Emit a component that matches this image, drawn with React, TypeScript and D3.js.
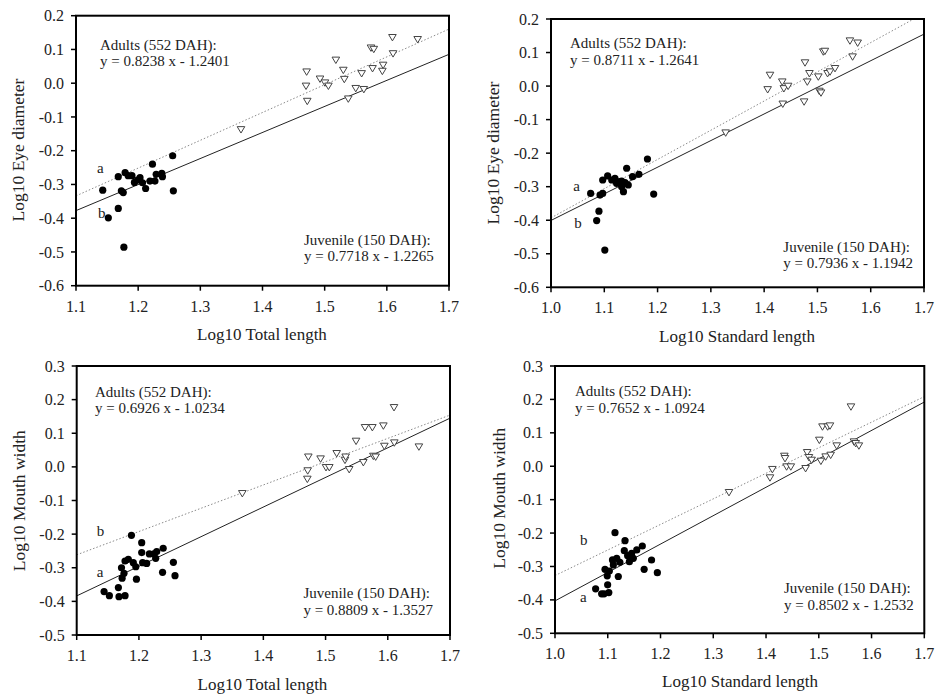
import React from "react";
import * as d3 from "d3";

// ---------- DATA ----------
const xTicksTotal = [1.1, 1.2, 1.3, 1.4, 1.5, 1.6, 1.7];
const xTicksStandard = [1.0, 1.1, 1.2, 1.3, 1.4, 1.5, 1.6, 1.7];
const yTicksEye = [-0.6, -0.5, -0.4, -0.3, -0.2, -0.1, 0.0, 0.1, 0.2];
const yTicksMouth = [-0.5, -0.4, -0.3, -0.2, -0.1, 0.0, 0.1, 0.2, 0.3];

// Eye diameter vs total length
const eyeTotalJuvenile: [number, number][] = [
  [1.143, -0.317], [1.152, -0.399], [1.168, -0.277], [1.173, -0.319], [1.176, -0.324],
  [1.168, -0.371], [1.177, -0.486], [1.179, -0.265], [1.184, -0.274], [1.19, -0.274],
  [1.194, -0.294], [1.203, -0.28], [1.207, -0.295], [1.212, -0.312], [1.219, -0.29],
  [1.223, -0.24], [1.227, -0.29], [1.229, -0.27], [1.238, -0.267], [1.239, -0.277],
  [1.2555, -0.215], [1.2566, -0.319], [1.199, -0.287],
];
const eyeTotalAdult: [number, number][] = [
  [1.3654, -0.137], [1.471, 0.034], [1.47, -0.008], [1.472, -0.053], [1.4925, 0.013],
  [1.5005, 0.0015], [1.506, -0.008], [1.518, 0.069], [1.53, 0.039], [1.5316, 0.012],
  [1.538, -0.046], [1.55, -0.015], [1.5595, 0.029], [1.563, -0.018], [1.5745, 0.105],
  [1.579, 0.101], [1.577, 0.044], [1.5928, 0.036], [1.594, 0.054], [1.609, 0.136],
  [1.61, 0.088], [1.6496, 0.13],
];
const eyeTotalFitAdult = [0.8238, -1.2401];
const eyeTotalFitJuvenile = [0.7718, -1.2265];

// Eye diameter vs standard length
const eyeStdJuvenile: [number, number][] = [
  [1.0744, -0.32], [1.092, -0.325], [1.097, -0.32], [1.09, -0.373], [1.0857, -0.401],
  [1.101, -0.489], [1.097, -0.28], [1.1063, -0.268], [1.114, -0.28], [1.12, -0.275],
  [1.123, -0.29], [1.129, -0.285], [1.1326, -0.3], [1.136, -0.315], [1.139, -0.288],
  [1.142, -0.245], [1.145, -0.295], [1.153, -0.27], [1.165, -0.263], [1.181, -0.2175],
  [1.1927, -0.322], [1.1326, -0.283],
];
const eyeStdAdult: [number, number][] = [
  [1.3278, -0.139], [1.4066, -0.01], [1.411, 0.033], [1.434, 0.013], [1.437, -0.007],
  [1.445, 0.0002], [1.435, -0.053], [1.4767, 0.07], [1.475, -0.0465], [1.481, 0.013],
  [1.485, 0.038], [1.5017, 0.028], [1.5036, -0.0147], [1.5067, -0.0197], [1.511, 0.1026],
  [1.514, 0.1045], [1.519, 0.038], [1.5236, 0.043], [1.533, 0.053], [1.561, 0.1354],
  [1.566, 0.0877], [1.5755, 0.129],
];
const eyeStdFitAdult = [0.8711, -1.2641];
const eyeStdFitJuvenile = [0.7936, -1.1942];

// Mouth width vs total length
const mouthTotalJuvenile: [number, number][] = [
  [1.144, -0.371], [1.1525, -0.383], [1.167, -0.359], [1.168, -0.386], [1.1777, -0.383],
  [1.173, -0.331], [1.172, -0.3], [1.1777, -0.28], [1.183, -0.275], [1.188, -0.2036],
  [1.176, -0.3166], [1.191, -0.285], [1.195, -0.297], [1.196, -0.334], [1.2045, -0.2254],
  [1.2045, -0.255], [1.206, -0.285], [1.2125, -0.287], [1.2168, -0.259], [1.224, -0.259],
  [1.2286, -0.252], [1.227, -0.272], [1.239, -0.242], [1.238, -0.3136], [1.2554, -0.284],
  [1.258, -0.3235],
];
const mouthTotalAdult: [number, number][] = [
  [1.3662, -0.0787], [1.4707, -0.036], [1.4713, -0.011], [1.4723, 0.03], [1.492, 0.0244],
  [1.5007, -0.0014], [1.506, -0.0014], [1.5179, 0.0403], [1.5312, 0.0204], [1.5323, 0.03],
  [1.538, -0.0073], [1.549, 0.077], [1.5607, 0.0135], [1.5634, 0.1176], [1.5752, 0.1176],
  [1.5768, 0.0323], [1.5805, 0.03], [1.5929, 0.1225], [1.5945, 0.062], [1.61, 0.177],
  [1.6105, 0.072], [1.65, 0.06],
];
const mouthTotalFitAdult = [0.6926, -1.0234];
const mouthTotalFitJuvenile = [0.8809, -1.3527];

// Mouth width vs standard length
const mouthStdJuvenile: [number, number][] = [
  [1.077, -0.367], [1.0884, -0.382], [1.093, -0.382], [1.102, -0.378], [1.0998, -0.355],
  [1.099, -0.328], [1.0948, -0.3085], [1.103, -0.3135], [1.12, -0.33], [1.1137, -0.1988],
  [1.109, -0.2805], [1.117, -0.2756], [1.123, -0.2875], [1.1106, -0.2955], [1.1327, -0.2227],
  [1.1314, -0.2526], [1.1377, -0.2676], [1.141, -0.2855], [1.1453, -0.2606], [1.155, -0.2506],
  [1.1655, -0.2387], [1.169, -0.3085], [1.183, -0.2806], [1.194, -0.3185], [1.1485, -0.2756],
];
const mouthStdAdult: [number, number][] = [
  [1.3298, -0.078], [1.4075, -0.034], [1.412, -0.009], [1.4347, 0.0307], [1.436, 0.0237],
  [1.439, -0.0012], [1.447, -0.0012], [1.475, -0.0062], [1.478, 0.0416], [1.4814, 0.0267],
  [1.4864, 0.0187], [1.501, 0.0786], [1.504, 0.0157], [1.507, 0.1185], [1.513, 0.0287],
  [1.5168, 0.1185], [1.5212, 0.1214], [1.5225, 0.0337], [1.534, 0.0616], [1.561, 0.1783],
  [1.5667, 0.0736], [1.57, 0.0686], [1.576, 0.0616],
];
const mouthStdFitAdult = [0.7652, -1.0924];
const mouthStdFitJuvenile = [0.8502, -1.2532];

// ---------- RENDER ----------
const FONT = "'Liberation Serif', 'Times New Roman', serif";
const fmt = (v: number) => v.toFixed(1);
const fitLabel = (f: number[]) =>
  `y = ${f[0].toFixed(4)} x - ${Math.abs(f[1]).toFixed(4)}`;

type PanelProps = {
  id: string;
  left: number; top: number; width: number; height: number;
  xTicks: number[]; yTicks: number[];
  juvenile: [number, number][]; adult: [number, number][];
  fitAdult: number[]; fitJuvenile: number[];
  xTitle: string; yTitle: string;
  xTitlePos: [number, number]; yTitlePos: [number, number];
  adultPos: [number, number]; juvPos: [number, number];
  aPos: [number, number]; bPos: [number, number];
};

function Panel(p: PanelProps) {
  const x = d3.scaleLinear().domain([p.xTicks[0], p.xTicks[p.xTicks.length - 1]]).range([0, p.width]);
  const y = d3.scaleLinear().domain([p.yTicks[0], p.yTicks[p.yTicks.length - 1]]).range([p.height, 0]);
  const [x0, x1] = x.domain();
  const line = d3.line<number>().x((v) => x(v)).y((v) => y(v));
  const fitPath = (f: number[]) =>
    d3.line<[number, number]>().x((d) => x(d[0])).y((d) => y(d[1]))([
      [x0, f[0] * x0 + f[1]],
      [x1, f[0] * x1 + f[1]],
    ]) || "";
  void line;
  const tri = "M-3.8,-2.8L3.8,-2.8L0,3.6Z";
  return (
    <g>
      <defs>
        <clipPath id={`clip-${p.id}`}>
          <rect x={0} y={0} width={p.width} height={p.height} />
        </clipPath>
      </defs>
      <g transform={`translate(${p.left},${p.top})`}>
        <g clipPath={`url(#clip-${p.id})`}>
          <path d={fitPath(p.fitAdult)} fill="none" stroke="#8a8a8a" strokeWidth={1} strokeDasharray="1.5,2" />
          <path d={fitPath(p.fitJuvenile)} fill="none" stroke="#222" strokeWidth={1} />
        </g>
        {p.adult.map((d, i) => (
          <path key={`a${i}`} d={tri} transform={`translate(${x(d[0])},${y(d[1])})`}
            fill="white" stroke="#444" strokeWidth={1} />
        ))}
        {p.juvenile.map((d, i) => (
          <circle key={`j${i}`} cx={x(d[0])} cy={y(d[1])} r={3.6} fill="#000" />
        ))}
        <rect x={0} y={0} width={p.width} height={p.height} fill="none" stroke="#000" strokeWidth={2} />
        {p.xTicks.map((t) => (
          <g key={`xt${t}`} transform={`translate(${x(t)},${p.height})`}>
            <line y1={0} y2={5} stroke="#000" strokeWidth={1.5} />
            <text y={26} textAnchor="middle" fontFamily={FONT} fontSize={16} fill="#222">{fmt(t)}</text>
          </g>
        ))}
        {p.yTicks.map((t) => (
          <g key={`yt${t}`} transform={`translate(0,${y(t)})`}>
            <line x1={0} x2={-5} stroke="#000" strokeWidth={1.5} />
            <text x={-12} dy="0.35em" textAnchor="end" fontFamily={FONT} fontSize={16} fill="#222">{fmt(t)}</text>
          </g>
        ))}
        <g fontFamily={FONT} fontSize={15} fill="#222">
          <text x={p.adultPos[0]} y={p.adultPos[1]}>Adults (552 DAH):</text>
          <text x={p.adultPos[0]} y={p.adultPos[1] + 16.5}>{fitLabel(p.fitAdult)}</text>
          <text x={p.juvPos[0]} y={p.juvPos[1]}>Juvenile (150 DAH):</text>
          <text x={p.juvPos[0]} y={p.juvPos[1] + 16.5}>{fitLabel(p.fitJuvenile)}</text>
          <text x={p.aPos[0]} y={p.aPos[1]}>a</text>
          <text x={p.bPos[0]} y={p.bPos[1]}>b</text>
        </g>
      </g>
      <text x={p.xTitlePos[0]} y={p.xTitlePos[1]} textAnchor="middle" fontFamily={FONT} fontSize={17} fill="#222">{p.xTitle}</text>
      <text transform={`translate(${p.yTitlePos[0]},${p.yTitlePos[1]}) rotate(-90)`} textAnchor="middle"
        fontFamily={FONT} fontSize={17.5} fill="#222">{p.yTitle}</text>
    </g>
  );
}

export default function App() {
  return (
    <svg width={935} height={697} style={{ position: "absolute", left: 0, top: 0, background: "white" }}>
      <rect width={935} height={697} fill="white" />
      <Panel id="p1" left={76} top={15.7} width={373} height={270}
        xTicks={xTicksTotal} yTicks={yTicksEye}
        juvenile={eyeTotalJuvenile} adult={eyeTotalAdult}
        fitAdult={eyeTotalFitAdult} fitJuvenile={eyeTotalFitJuvenile}
        xTitle="Log10 Total length" yTitle="Log10 Eye diameter"
        xTitlePos={[262, 340]} yTitlePos={[24, 150]}
        adultPos={[24, 34.3]} juvPos={[228, 229.3]} aPos={[21, 157]} bPos={[22, 202]} />
      <Panel id="p2" left={551} top={19} width={373} height={268.3}
        xTicks={xTicksStandard} yTicks={yTicksEye}
        juvenile={eyeStdJuvenile} adult={eyeStdAdult}
        fitAdult={eyeStdFitAdult} fitJuvenile={eyeStdFitJuvenile}
        xTitle="Log10 Standard length" yTitle="Log10 Eye diameter"
        xTitlePos={[737, 342]} yTitlePos={[499, 153]}
        adultPos={[19, 29.3]} juvPos={[232.3, 232.7]} aPos={[22.3, 171.7]} bPos={[23.3, 209.3]} />
      <Panel id="p3" left={76.7} top={366} width={373.3} height={269}
        xTicks={xTicksTotal} yTicks={yTicksMouth}
        juvenile={mouthTotalJuvenile} adult={mouthTotalAdult}
        fitAdult={mouthTotalFitAdult} fitJuvenile={mouthTotalFitJuvenile}
        xTitle="Log10 Total length" yTitle="Log10 Mouth width"
        xTitlePos={[262.5, 690]} yTitlePos={[25, 500.7]}
        adultPos={[18.3, 30.7]} juvPos={[226.7, 232.3]} aPos={[20, 211.3]} bPos={[20, 170]} />
      <Panel id="p4" left={555} top={366} width={369.3} height={267.3}
        xTicks={xTicksStandard} yTicks={yTicksMouth}
        juvenile={mouthStdJuvenile} adult={mouthStdAdult}
        fitAdult={mouthStdFitAdult} fitJuvenile={mouthStdFitJuvenile}
        xTitle="Log10 Standard length" yTitle="Log10 Mouth width"
        xTitlePos={[740, 686.7]} yTitlePos={[505, 498.3]}
        adultPos={[20, 30]} juvPos={[229, 227.3]} aPos={[25, 235.7]} bPos={[25, 179]} />
    </svg>
  );
}
